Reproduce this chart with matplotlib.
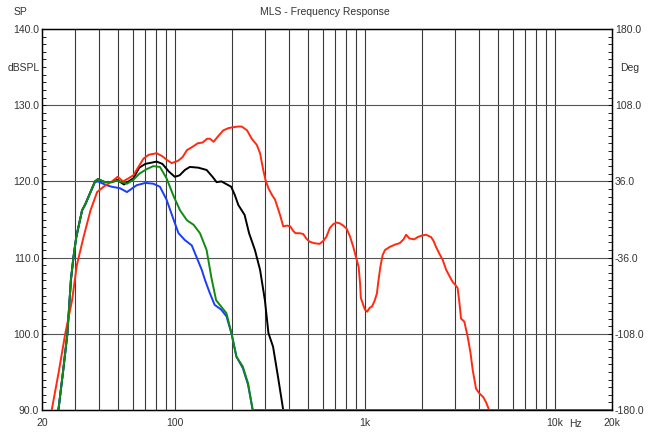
import numpy as np
import matplotlib.pyplot as plt

plt.rcParams['font.family'] = ['Liberation Sans', 'DejaVu Sans']

# Frequency response curves (Hz, dBSPL)
red_f = [22.5, 24.5, 26.5, 28.8, 30.5, 33.1, 36, 39, 42.2, 46.7, 50, 53.4, 57, 60.5,
         64, 68.5, 73, 80.3, 86, 91, 96.3, 104, 110, 115.8, 125, 132, 140, 148, 153, 160, 170,
         180, 192, 202, 215, 225, 240, 254, 270, 281, 292, 300, 311, 325, 337, 358, 372, 390, 405,
         420, 432, 455, 474, 492, 511, 540, 578, 605, 627, 655, 683, 710, 738, 770, 802, 835, 870,
         900, 928, 945, 953, 975, 1000, 1029, 1060, 1092, 1125, 1158, 1180, 1208, 1240, 1277, 1353,
         1440, 1527, 1600, 1650, 1690, 1720, 1820, 1900, 2000, 2100, 2230, 2300, 2370, 2470, 2570,
         2680, 2800, 2900, 3000, 3080, 3150, 3210, 3340, 3480, 3600, 3700, 3850, 4000, 4200, 4350,
         4510]
red_db = [90, 95, 100, 104.4, 109, 112.7, 116.2, 118.6, 119.3, 120.0, 120.6, 120.0, 120.4,
          120.8, 121.8, 123.0, 123.5, 123.7, 123.3, 122.8, 122.4, 122.7, 123.2, 124.1, 124.6,
          125.0, 125.1, 125.6, 125.6, 125.2, 126.0, 126.7, 127.0, 127.1, 127.2, 127.2, 126.7, 125.6,
          124.8, 123.7, 121.5, 120.2, 119.1, 118.2, 117.6, 115.6, 114.1, 114.2, 114.1, 113.5, 113.2,
          113.2, 113.1, 112.5, 112.1, 111.9, 111.8, 112.2, 112.7, 113.9, 114.4, 114.6, 114.5, 114.2,
          113.8, 112.8, 111.4, 110.0, 108.8, 106.5, 104.7, 104.0, 103.2, 102.9, 103.4, 103.6, 104.3,
          105.3, 107.0, 108.8, 110.3, 111.0, 111.4, 111.7, 111.9, 112.4, 113.0, 112.7, 112.5, 112.4,
          112.7, 112.9, 113.0, 112.7, 112.2, 111.4, 110.5, 109.7, 108.4, 107.5, 106.8, 106.4, 106.0,
          104.0, 102.0, 101.6, 99.6, 97.5, 95.2, 92.8, 92.2, 91.7, 91.0, 90.0]

black_f = [24.4, 25.8, 27.2, 28.4, 29.3, 30.3, 32.5, 33.8, 36, 38, 39.4, 42.9, 46.6, 49.7, 54, 60.5,
           65, 70, 80.3, 86, 93, 100, 106, 113, 120, 133, 147, 158, 166, 176, 185, 198,
           207, 216, 233, 246, 264, 281, 298, 311, 329, 349, 363, 372]
black_db = [90, 95, 100, 107.1, 110.1, 112.7, 116.2, 117.0, 118.6, 120.0, 120.3, 119.9, 119.9,
            120.2, 119.6, 120.4, 121.8, 122.3, 122.6, 122.3, 121.3, 120.6, 120.8, 121.5, 121.9,
            121.8, 121.5, 120.6, 119.9, 120.0, 119.7, 119.3, 118.2, 116.9, 115.6, 113.2, 111.0,
            108.4, 104.4, 100.1, 98.3, 94.4, 91.7, 90]

green_f = [24.4, 25.8, 27.2, 28.4, 29.3, 30.3, 32.5, 33.8, 36, 38, 39.4, 42.9, 46.6, 49.7, 56,
           60.5, 65, 71, 77, 83.5, 90.5, 98.8, 106.6, 115.8, 125.6, 135.7, 147, 156, 165, 175,
           187, 199, 211, 220, 228, 243, 257, 20000]
green_db = [90, 95, 100, 107.1, 110.1, 112.7, 116.2, 117.0, 118.6, 120.0, 120.3, 119.9, 119.9,
            120.1, 119.7, 120.2, 121.0, 121.6, 122.0, 121.9, 120.4, 118.0, 116.2, 114.9, 114.3,
            113.2, 111.0, 107.3, 104.4, 103.6, 102.7, 100.0, 97.0, 96.3, 95.7, 93.5, 90, 90]

blue_f = [24.4, 25.8, 27.2, 28.4, 29.3, 30.3, 32.5, 33.8, 36, 38, 39.4, 43.7, 46.6, 51.5, 56, 63,
          70, 77, 83.5, 90.5, 98.8, 104.6, 113, 122.8, 130, 138.6, 144, 152, 162, 175, 187, 199,
          211, 220, 228, 243, 257]
blue_db = [90, 95, 100, 107.1, 110.1, 112.7, 116.2, 117.0, 118.6, 119.9, 120.0, 119.5, 119.3,
           119.1, 118.6, 119.5, 119.8, 119.7, 119.3, 117.6, 114.9, 113.2, 112.3, 111.6, 110.1,
           108.4, 107.1, 105.5, 103.8, 103.2, 102.3, 100.0, 97.0, 96.2, 95.5, 93.3, 90]

x_ticks = [20, 100, 1000, 10000, 20000]
x_labels = ['20', '100', '1k', '10k', '20k']
db_ticks = [90, 100, 110, 120, 130, 140]
deg_ticks = [-180, -108, -36, 36, 108, 180]

fig = plt.figure(figsize=(6.49, 4.32), dpi=100)
ax = fig.add_axes([42 / 649, 22 / 432, 570 / 649, 381 / 432])

# vertical grid at every 1..9 multiple per decade
grid_f = [m * 10 ** d for d in range(1, 5) for m in range(1, 10) if 20 < m * 10 ** d < 20000]
for g in grid_f:
    ax.axvline(g, color='#3a3a3a', lw=0.8, zorder=1)
for h in [100, 110, 120, 130]:
    ax.axhline(h, color='#555555', lw=0.8, zorder=1)

ax.plot(black_f, black_db, color='black', lw=1.4, zorder=3)
ax.plot(blue_f, blue_db, color='#1a3cff', lw=1.4, zorder=3)
ax.plot(red_f, red_db, color='#ff2a10', lw=1.4, zorder=3)
ax.plot(green_f, green_db, color='#108a10', lw=1.4, zorder=4)

ax.set_xscale('log')
ax.set_xlim(20, 20000)
ax.set_ylim(90, 140)
ax.set_xticks(x_ticks)
ax.set_xticklabels(x_labels)
ax.xaxis.set_minor_locator(plt.NullLocator())
ax.set_yticks(db_ticks)
ax.set_yticklabels([f'{v:.1f}' for v in db_ticks])
ax.set_yticks(np.arange(90, 141, 1), minor=True)
ax.tick_params(axis='x', length=0, pad=6, labelsize=7.5, labelcolor='#333333')
ax.tick_params(axis='y', which='both', direction='in', length=3, width=0.6,
               labelsize=7.5, labelcolor='#333333', pad=2, right=False)
for s in ax.spines.values():
    s.set_linewidth(1.0)

ax2 = ax.twinx()
ax2.set_ylim(-180, 180)
ax2.set_yticks(deg_ticks)
ax2.set_yticklabels([f'{v:.1f}' for v in deg_ticks])
ax2.set_yticks(np.arange(-180, 181, 7.2), minor=True)
ax2.tick_params(axis='y', which='both', direction='in', length=3, width=0.6,
                labelsize=7.5, labelcolor='#333333', pad=2)

fig.text(14 / 649, 1 - 12 / 432, 'SP', fontsize=7.5, color='#333333', va='center')
fig.text(0.5, 1 - 12 / 432, 'MLS - Frequency Response', fontsize=7.5, color='#333333',
         ha='center', va='center')
fig.text(8 / 649, 1 - 68 / 432, 'dBSPL', fontsize=7.5, color='#333333', va='center')
fig.text(620 / 649, 1 - 68 / 432, 'Deg', fontsize=7.5, color='#333333', va='center')
fig.text(575 / 649, 1 - 424 / 432, 'Hz', fontsize=7.5, color='#333333', ha='center', va='center')

fig.savefig('out.png', dpi=100)
